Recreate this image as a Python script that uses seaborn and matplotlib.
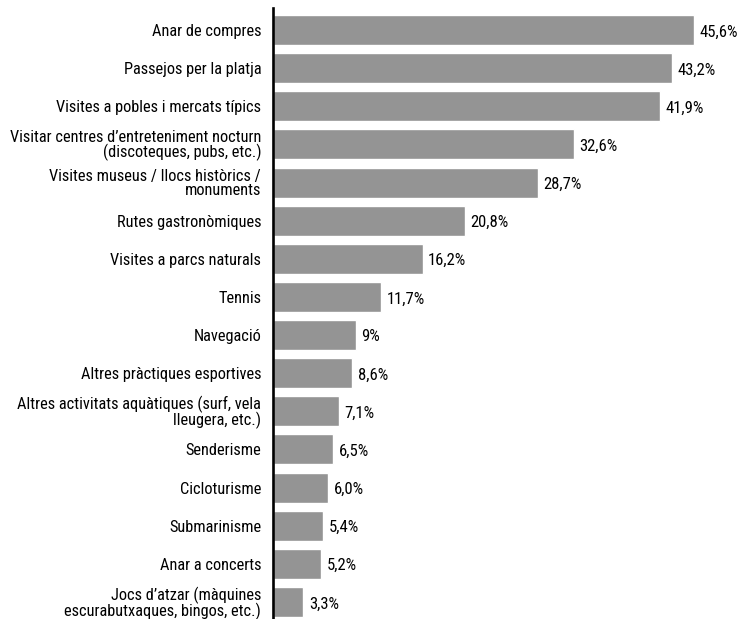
import matplotlib
matplotlib.use("Agg")
from matplotlib import pyplot as plt
from matplotlib import font_manager
import seaborn as sns
import pandas as pd

activities = [
    "Anar de compres",
    "Passejos per la platja",
    "Visites a pobles i mercats típics",
    "Visitar centres d’entreteniment nocturn\n(discoteques, pubs, etc.)",
    "Visites museus / llocs històrics /\nmonuments",
    "Rutes gastronòmiques",
    "Visites a parcs naturals",
    "Tennis",
    "Navegació",
    "Altres pràctiques esportives",
    "Altres activitats aquàtiques (surf, vela\nlleugera, etc.)",
    "Senderisme",
    "Cicloturisme",
    "Submarinisme",
    "Anar a concerts",
    "Jocs d’atzar (màquines\nescurabutxaques, bingos, etc.)",
]
values = [45.6, 43.2, 41.9, 32.6, 28.7, 20.8, 16.2, 11.7, 9.0, 8.6, 7.1, 6.5, 6.0, 5.4, 5.2, 3.3]
value_labels = ["45,6%", "43,2%", "41,9%", "32,6%", "28,7%", "20,8%", "16,2%", "11,7%",
                "9%", "8,6%", "7,1%", "6,5%", "6,0%", "5,4%", "5,2%", "3,3%"]

df = pd.DataFrame({"activity": activities, "value": values})

sns.set_style("white")
names = {f.name for f in font_manager.fontManager.ttflist}
fams = [f for f in ["Roboto Condensed", "Archivo Narrow", "Liberation Sans Narrow", "Roboto"] if f in names]
plt.rcParams["font.family"] = fams[:1] + ["DejaVu Sans"]

fig = plt.figure(figsize=(7.38, 6.19), dpi=100)
ax = fig.add_axes([273 / 738, 0, 1 - 273 / 738, 611 / 619])

sns.barplot(data=df, x="value", y="activity", color="#949494", width=0.787,
            saturation=1, ax=ax)

ax.set_xlim(0, (738 - 273) / 9.23)
ax.set_ylim(15.446, -0.577)
ax.set_xlabel("")
ax.set_ylabel("")
ax.set_xticks([])
for s in ["top", "right", "bottom"]:
    ax.spines[s].set_visible(False)
ax.spines["left"].set_linewidth(1.9)
ax.spines["left"].set_color("black")
ax.tick_params(axis="y", length=0, pad=8.5, labelsize=11.8, labelcolor="black")
for t in ax.get_yticklabels():
    t.set_linespacing(0.88)

for i, (v, lab) in enumerate(zip(values, value_labels)):
    ax.text(v + 0.6, i + 0.05, lab, va="center", ha="left", fontsize=12, color="black")

fig.savefig("out.png", dpi=100)
